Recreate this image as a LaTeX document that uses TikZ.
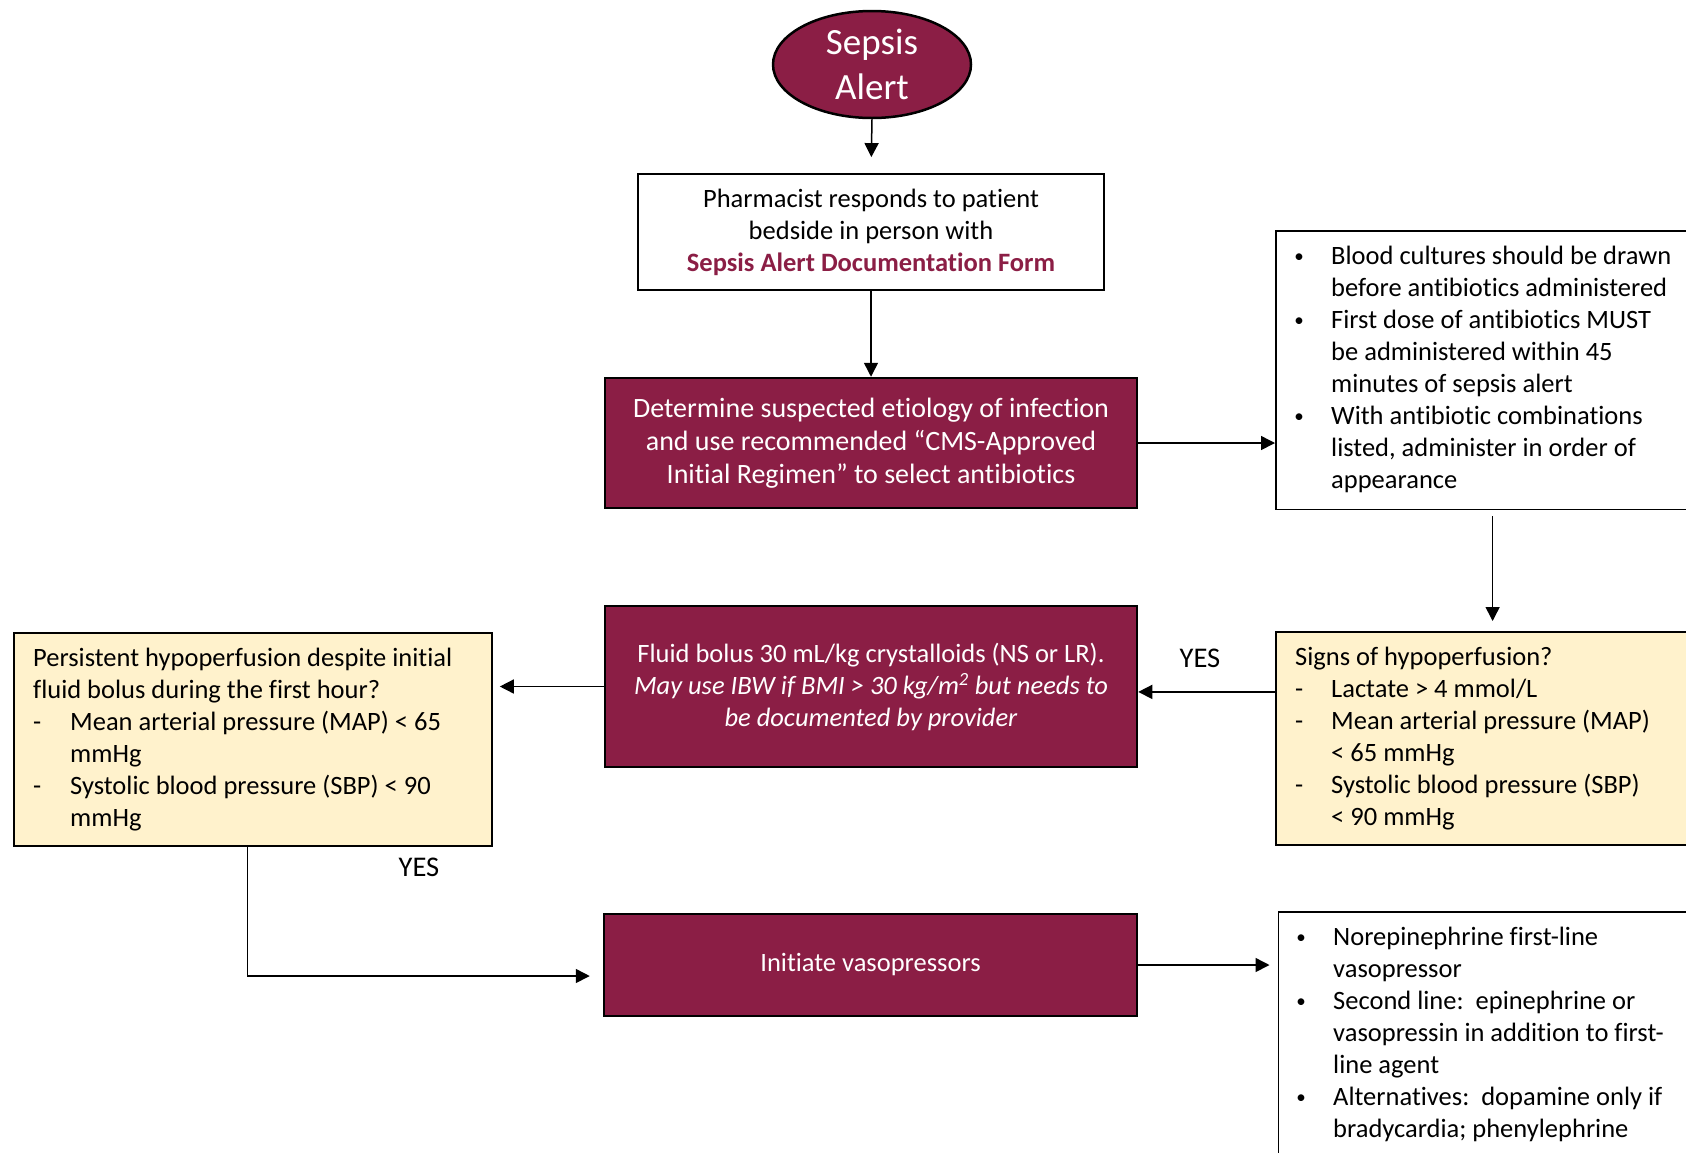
\documentclass[tikz,border=0pt]{standalone}
\usepackage{fontspec}
\setmainfont{Carlito}[Ligatures={NoCommon}]
\usetikzlibrary{arrows.meta,calc,shapes.geometric}
\definecolor{sred}{RGB}{139,30,69}
\definecolor{syellow}{HTML}{FFF2CC}
\newcommand{\bfs}{\fontsize{26.5}{32}\selectfont}
\newcommand{\bulcell}{\makebox[38.5pt][l]{\makebox[13pt]{\raisebox{1.8pt}{\fontsize{19}{19}\selectfont •}}}}
\newcommand{\dashcell}[1]{\makebox[#1][l]{-}}
\begin{document}
\begin{tikzpicture}[x=1pt,y=-1pt,
  redbox/.style={draw=black, line width=2.5pt, fill=sred, text=white, align=center, font=\bfs, inner sep=0pt},
  whitebox/.style={draw=black, line width=1.8pt, fill=white, inner sep=0pt},
  yellowbox/.style={draw=black, line width=1.8pt, fill=syellow, inner sep=0pt},
  txt/.style={anchor=base west, inner sep=0pt, font=\bfs, align=left},
  lbl/.style={inner sep=0pt, font=\fontsize{28.5}{32}\selectfont},
  arr/.style={-{Triangle[length=14pt,width=14pt]}, line width=1.5pt}]
\useasboundingbox (0,0) rectangle (1686,1152);
\clip (0,0) rectangle (1686,1152);
\fill[white] (0,0) rectangle (1686,1152);

% top
\node[ellipse, draw=black, line width=2.5pt, fill=sred, text=white, minimum width=198pt, minimum height=107pt, inner sep=0pt, align=center, font=\fontsize{37}{45}\selectfont] (alert) at (872,64.5) {Sepsis\\Alert};

\node[whitebox, minimum width=466pt, minimum height=116pt, align=center, font=\bfs, text depth=4pt] (pharm) at (871,232)
  {Pharmacist responds to patient\\bedside in person with\\\textcolor{sred}{\textbf{Sepsis Alert Documentation Form}}};

\node[redbox, minimum width=532pt, minimum height=130pt, font=\fontsize{28}{33}\selectfont] (det) at (871,443)
  {Determine suspected etiology of infection\\and use recommended “CMS-Approved\\Initial Regimen” to select antibiotics};

\node[redbox, minimum width=532pt, minimum height=161pt] (fluid) at (871,686.5)
  {Fluid bolus 30 mL/kg crystalloids (NS or LR).\\\textit{May use IBW if BMI > 30 kg/m\textsuperscript{2} but needs to}\\\textit{be documented by provider}};

\node[redbox, minimum width=533pt, minimum height=102pt] (vaso) at (870.5,965) {Initiate vasopressors};

% right column
\node[whitebox, anchor=north west, minimum width=433.4pt, minimum height=278.5pt] (blood) at (1275,230) {};
\node[txt] (bloodtxt) at (1292.5,264) {\begin{tabular}[t]{@{}l@{}l@{}}
\bulcell & Blood cultures should be drawn\\
 & before antibiotics administered\\
\bulcell & First dose of antibiotics MUST\\
 & be administered within 45\\
 & minutes of sepsis alert\\
\bulcell & With antibiotic combinations\\
 & listed, administer in order of\\
 & appearance
\end{tabular}};

\node[yellowbox, anchor=north west, minimum width=433.4pt, minimum height=213pt] (signs) at (1275,631) {};
\node[txt] (signstxt) at (1295,665) {\begin{tabular}[t]{@{}l@{}l@{}}
\multicolumn{2}{@{}l@{}}{Signs of hypoperfusion?}\\
\dashcell{36pt} & Lactate > 4 mmol/L\\
\dashcell{36pt} & Mean arterial pressure (MAP)\\
 & < 65 mmHg\\
\dashcell{36pt} & Systolic blood pressure (SBP)\\
 & < 90 mmHg
\end{tabular}};

\node[whitebox, anchor=north west, minimum width=431pt, minimum height=260pt] (noreph) at (1277.5,911) {};
\node[txt] (norephtxt) at (1294.5,945) {\begin{tabular}[t]{@{}l@{}l@{}}
\bulcell & Norepinephrine first-line\\
 & vasopressor\\
\bulcell & Second line:\ \ epinephrine or\\
 & vasopressin in addition to first-\\
 & line agent\\
\bulcell & Alternatives:\ \ dopamine only if\\
 & bradycardia; phenylephrine
\end{tabular}};

% left
\node[yellowbox, anchor=north west, minimum width=478pt, minimum height=213pt] (persist) at (13,632) {};
\node[txt] (persisttxt) at (33,666.5) {\begin{tabular}[t]{@{}l@{}l@{}}
\multicolumn{2}{@{}l@{}}{Persistent hypoperfusion despite initial}\\
\multicolumn{2}{@{}l@{}}{fluid bolus during the first hour?}\\
\dashcell{37pt} & Mean arterial pressure (MAP) < 65\\
 & mmHg\\
\dashcell{37pt} & Systolic blood pressure (SBP) < 90\\
 & mmHg
\end{tabular}};

% labels
\node[lbl] (yes1) at (1200,658) {YES};
\node[lbl] (yes2) at (419,867) {YES};

% connectors
\draw[arr, shorten >=16pt] (alert.south) -- (pharm.north);
\draw[arr] (pharm.south) -- (det.north);
\draw[arr] (det.east) -- (det.east -| blood.west);
\draw[arr, shorten <=6pt, shorten >=10pt] (blood.south) -- (signs.north);
\coordinate (sf) at ($(signs.west)+(0,-46.5)$);
\draw[arr] (sf) -- (sf -| fluid.east);
\draw[arr, shorten >=7pt] (fluid.west) -- (fluid.west -| persist.east);
\coordinate (pv) at ($(persist.south)+(-5.3,0)$);
\coordinate (vw) at ($(vaso.west)+(0,11)$);
\draw[arr, shorten >=13pt] (pv) |- (vw);
\draw[arr, shorten >=8pt] (vaso.east) -- (vaso.east -| noreph.west);
\end{tikzpicture}
\end{document}
